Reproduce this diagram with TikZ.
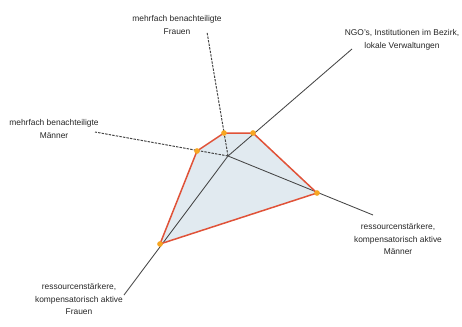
\documentclass[tikz,border=0pt]{standalone}
\usepackage{fontspec}
\setmainfont{Liberation Sans}
\usepackage{xcolor}
\definecolor{axisgray}{HTML}{454545}
\definecolor{polyred}{HTML}{E05238}
\definecolor{polyfill}{HTML}{E1EAF0}
\definecolor{dotorange}{HTML}{F7A623}

\begin{document}
\begin{tikzpicture}[x=1pt,y=-1pt,
    lbl/.style={align=center,inner sep=0pt,text=black!85,font=\fontsize{8.4}{12.6}\selectfont},
    ax/.style={axisgray,line width=0.85pt},
    dax/.style={ax,line width=1pt,dash pattern=on 2.4pt off 1.2pt},
    dot/.style={circle,fill=dotorange,inner sep=2pt}]
    \useasboundingbox (0,0) rectangle (462,326);
    % centre and axis ends
    \coordinate (o) at (228,156);
    \coordinate (fa) at (207,32);
    \coordinate (fb) at (352,49);
    \coordinate (fc) at (373,215);
    \coordinate (fd) at (124,295);
    \coordinate (fe) at (95,132);

    \fill[polyfill] (197,151) -- (224,133) -- (253,133) -- (317,193) -- (160,244) -- cycle;

    \draw[dax] (o) -- (fa) (o) -- (fe);
    \draw[ax] (o) -- (fb) (o) -- (fc) (o) -- (fd);

    \draw[polyred,line width=1.5pt,line join=round]
        (197,151) -- (224,133) -- (253,133) -- (317,193) -- (160,244) -- cycle;

    \node (a) at (224,133) [dot] {};
    \node (b) at (253,133) [dot] {};
    \node (c) at (317,193) [dot] {};
    \node (d) at (160,244) [dot] {};
    \node (e) at (197,151) [dot] {};

    \node (la) at (177,25) [lbl] {mehrfach benachteiligte\\Frauen};
    \node (lb) at (402,40) [lbl] {NGO's, Institutionen im Bezirk,\\lokale Verwaltungen};
    \node (lc) at (398,239) [lbl] {ressourcenstärkere,\\kompensatorisch aktive\\Männer};
    \node (ld) at (79,299) [lbl] {ressourcenstärkere,\\kompensatorisch aktive\\Frauen};
    \node (le) at (54,129) [lbl] {mehrfach benachteiligte\\Männer};
\end{tikzpicture}
\end{document}
